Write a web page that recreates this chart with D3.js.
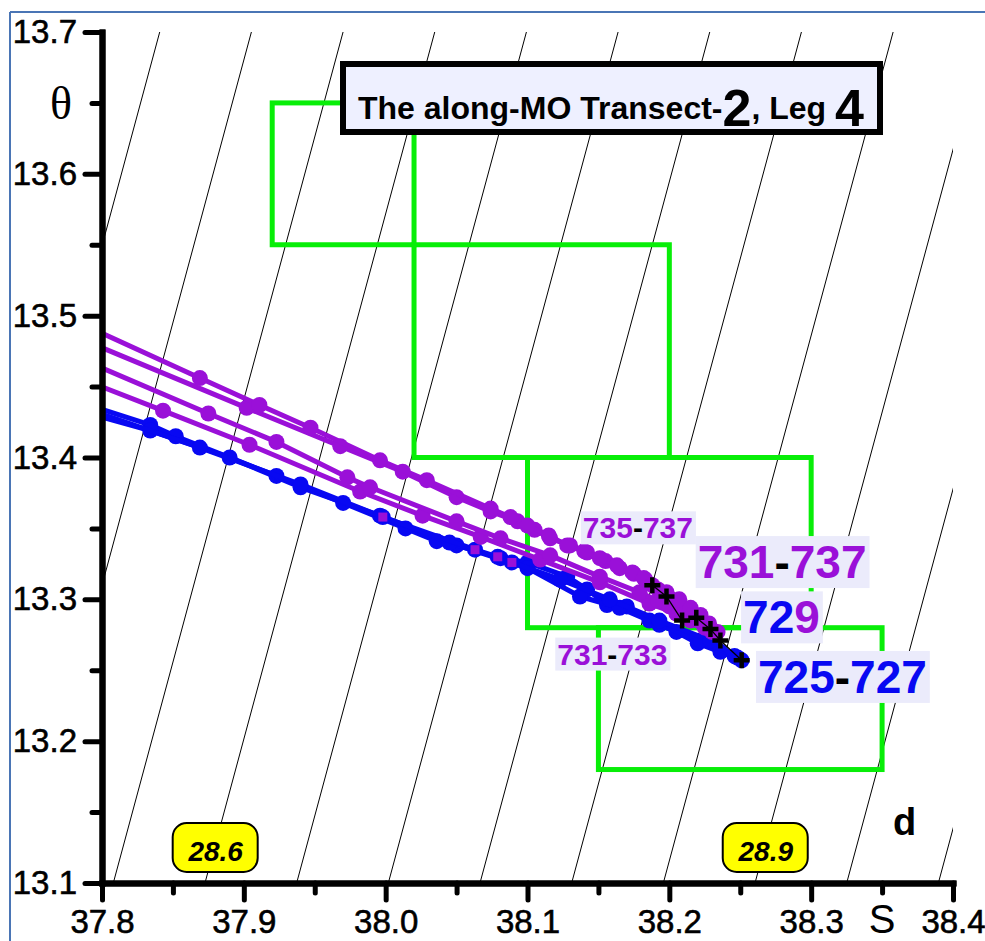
<!DOCTYPE html>
<html><head><meta charset="utf-8">
<script src="https://cdn.jsdelivr.net/npm/d3@7"></script>
<style>body{margin:0;background:#fff}svg{display:block}</style>
</head><body><svg id="c" width="985" height="941"></svg>
<script>
// ---------- data ----------
const xTicks = [37.8, 37.9, 38.0, 38.1, 38.2, 38.3, 38.4];
const xMinor = [37.85, 37.95, 38.05, 38.15, 38.25, 38.35];
const yTicks = [13.1, 13.2, 13.3, 13.4, 13.5, 13.6, 13.7];
const yMinor = [13.15, 13.25, 13.35, 13.45, 13.55, 13.65];
const sigmaLevels = [28.45, 28.5, 28.55, 28.6, 28.65, 28.7, 28.75, 28.8, 28.85, 28.9, 28.95, 29.0];
const sigmaLabels = [28.6, 28.9];
// linear equation of state
const sigmaRef = 28.6, sAtRef = 37.8726, thetaRef = 13.1, dSdSigma = 1.2927, dSdTheta = 0.27;
// green boxes: [Smin, Smax, thetaMin, thetaMax]
const boxes = [[37.92, 38.02, 13.55, 13.65], [38.02, 38.2, 13.4, 13.55], [38.1, 38.3, 13.28, 13.4], [38.15, 38.35, 13.18, 13.28]];
// stations: [S, theta]
const st725 = [[37.784,13.439],[37.834,13.423],[37.852,13.415],[37.923,13.387],[37.970,13.368],[38.014,13.350],[38.036,13.341],[38.050,13.338],[38.081,13.329],[38.100,13.326],[38.128,13.316],[38.142,13.307],[38.156,13.296],[38.170,13.295],[38.186,13.285],[38.205,13.277],[38.220,13.269],[38.236,13.263],[38.251,13.257]];
const st727 = [[37.784,13.433],[37.834,13.419],[37.890,13.400],[37.940,13.379],[37.996,13.359],[38.045,13.340],[38.100,13.322],[38.137,13.302],[38.165,13.294],[38.193,13.282],[38.222,13.271],[38.246,13.260]];
const st729 = [[37.784,13.436],[37.869,13.407],[37.940,13.381],[37.998,13.358],[38.063,13.335],[38.079,13.330],[38.089,13.326],[38.123,13.314],[38.158,13.300],[38.193,13.285],[38.229,13.271],[38.248,13.259]];
const sq729 = [[37.998,13.358],[38.063,13.335],[38.079,13.330],[38.089,13.326]];
const st731 = [[37.784,13.456],[37.843,13.433],[37.904,13.409],[37.982,13.376],[38.026,13.359],[38.067,13.344],[38.109,13.328],[38.151,13.312],[38.186,13.297],[38.205,13.290],[38.215,13.285],[38.225,13.280]];
const st733 = [[37.784,13.470],[37.875,13.431],[37.923,13.411],[37.973,13.386],[37.989,13.379],[38.050,13.355],[38.081,13.343],[38.116,13.331],[38.151,13.316],[38.179,13.305],[38.192,13.299],[38.200,13.295],[38.212,13.289],[38.222,13.284]];
const st735 = [[37.784,13.484],[37.902,13.435],[37.968,13.408],[38.012,13.390],[38.050,13.372],[38.074,13.362],[38.093,13.355],[38.105,13.349],[38.116,13.343],[38.130,13.338],[38.142,13.333],[38.155,13.327],[38.165,13.322],[38.175,13.318],[38.183,13.314],[38.192,13.307],[38.200,13.301],[38.210,13.294],[38.218,13.288],[38.225,13.282],[38.230,13.277]];
const st737 = [[37.784,13.495],[37.869,13.456],[37.911,13.437],[37.947,13.421],[37.996,13.398],[38.029,13.384],[38.074,13.364],[38.088,13.358],[38.100,13.352],[38.115,13.345],[38.128,13.338],[38.140,13.334],[38.151,13.329],[38.163,13.324],[38.174,13.319],[38.182,13.315],[38.188,13.310],[38.198,13.305],[38.207,13.300],[38.215,13.294],[38.222,13.289],[38.228,13.283],[38.234,13.277]];
const crosses = [[38.188,13.310],[38.198,13.302],[38.209,13.285],[38.219,13.287],[38.229,13.279],[38.236,13.271],[38.251,13.257]];

// ---------- drawing ----------
const BLUE = "#0808f2", PURPLE = "#9a10d8", GREEN = "#08ee08";
const FONT = "'Liberation Sans', Arial, sans-serif";
const svg = d3.select("#c");
const x = d3.scaleLinear().domain([37.8, 38.4]).range([102, 953]);
const y = d3.scaleLinear().domain([13.1, 13.7]).range([883, 32]);

// frame
svg.append("line").attr("x1",10).attr("y1",12).attr("x2",985).attr("y2",12).attr("stroke","#4a75b5").attr("stroke-width",2);
svg.append("line").attr("x1",10).attr("y1",12).attr("x2",10).attr("y2",941).attr("stroke","#4a75b5").attr("stroke-width",2);

svg.append("clipPath").attr("id","plot").append("rect")
  .attr("x",x(37.8)).attr("y",y(13.7)).attr("width",x(38.4)-x(37.8)).attr("height",y(13.1)-y(13.7));

const sOf = (sig, th) => sAtRef + (sig - sigmaRef) * dSdSigma + (th - thetaRef) * dSdTheta;

// isopycnals
const iso = svg.append("g").attr("clip-path","url(#plot)");
const isoLine = d3.line().x(d => x(d[0])).y(d => y(d[1]));
sigmaLevels.forEach(sig => {
  iso.append("path").attr("d", isoLine([[sOf(sig,13.1),13.1],[sOf(sig,13.7),13.7]]))
    .attr("stroke","#000").attr("stroke-width",1).attr("fill","none");
});

// green boxes
svg.append("g").selectAll("rect").data(boxes).join("rect")
  .attr("x", d => x(d[0])).attr("y", d => y(d[3]))
  .attr("width", d => x(d[1]) - x(d[0])).attr("height", d => y(d[2]) - y(d[3]))
  .attr("fill","none").attr("stroke",GREEN).attr("stroke-width",5);

// stations
const dataG = svg.append("g").attr("clip-path","url(#plot)");
const stations = [
  {pts: st725, c: BLUE}, {pts: st727, c: BLUE}, {pts: st729, c: BLUE},
  {pts: st731, c: PURPLE}, {pts: st733, c: PURPLE}, {pts: st735, c: PURPLE}, {pts: st737, c: PURPLE}
];
const line = d3.line().x(d => x(d[0])).y(d => y(d[1]));
stations.forEach(st => {
  dataG.append("path").attr("d", line(st.pts)).attr("fill","none")
    .attr("stroke", st.c).attr("stroke-width",5).attr("stroke-linejoin","round");
  dataG.append("g").selectAll("circle").data(st.pts).join("circle")
    .attr("cx", d => x(d[0])).attr("cy", d => y(d[1])).attr("r", 8).attr("fill", st.c);
});
dataG.append("g").selectAll("rect").data(sq729).join("rect")
  .attr("x", d => x(d[0]) - 4.5).attr("y", d => y(d[1]) - 4.5).attr("width",9).attr("height",9)
  .attr("fill", PURPLE);
// crosses and connecting line
dataG.append("path").attr("d", line(crosses)).attr("fill","none").attr("stroke","#000").attr("stroke-width",1.3);
const cg = dataG.append("g");
crosses.forEach(d => {
  const cx = x(d[0]), cy = y(d[1]);
  cg.append("path").attr("d", `M${cx-8},${cy}H${cx+8}M${cx},${cy-8}V${cy+8}`)
    .attr("stroke","#000").attr("stroke-width",4.5);
});

// station labels
function label(parts, s, th, size) {
  const g = svg.append("g");
  const t = g.append("text").attr("x", x(s)).attr("y", y(th))
    .attr("font-family", FONT).attr("font-weight","bold").attr("font-size", size);
  parts.forEach(p => t.append("tspan").text(p[0]).attr("fill", p[1]));
  const b = t.node().getBBox();
  g.insert("rect","text").attr("x", b.x - 2).attr("y", b.y).attr("width", b.width + 5).attr("height", b.height)
    .attr("fill","#ebebfb");
}
label([["735",PURPLE],["-","#000"],["737",PURPLE]], 38.139, 13.343, 30);
label([["731",PURPLE],["-","#000"],["733",PURPLE]], 38.121, 13.254, 30);
label([["731",PURPLE],["-","#000"],["737",PURPLE]], 38.220, 13.315, 46);
label([["72",BLUE],["9",PURPLE]], 38.252, 13.276, 46);
label([["725",BLUE],["-","#000"],["727",BLUE]], 38.2625, 13.234, 46);

// density labels
const thLab = y.invert(847);
sigmaLabels.forEach(sig => {
  const cx = x(sOf(sig, thLab)), cy = y(thLab);
  svg.append("rect").attr("x", cx - 42).attr("y", cy - 24).attr("width", 85).attr("height", 49)
    .attr("rx", 14).attr("fill","#ffff00").attr("stroke","#000").attr("stroke-width",2);
  svg.append("text").attr("x", cx + 1).attr("y", cy + 14).attr("text-anchor","middle")
    .attr("font-family", FONT).attr("font-weight","bold").attr("font-style","italic").attr("font-size",28)
    .text(sig.toFixed(1));
});

// title box
svg.append("rect").attr("x",343).attr("y",64).attr("width",537).attr("height",68)
  .attr("fill","#eef0ff").attr("stroke","#000").attr("stroke-width",6);
const tt = svg.append("text").attr("x",358).attr("y",119).attr("font-family",FONT).attr("font-weight","bold").attr("font-size",32);
tt.append("tspan").text("The along-MO Transect-");
tt.append("tspan").text("2").attr("font-size",52).attr("dy",7);
tt.append("tspan").text(", Leg ").attr("dy",-7);
tt.append("tspan").text("4").attr("font-size",52).attr("dy",7);

// d label
svg.append("text").attr("x",893).attr("y",835).attr("font-family",FONT).attr("font-weight","bold").attr("font-size",38).text("d");

// axes
function styleAxis(g, size) {
  g.attr("font-family", FONT).attr("font-size", size);
  g.select(".domain").attr("stroke","#000").attr("stroke-width",6).attr("stroke-linecap","square");
  g.selectAll(".tick line").attr("stroke","#000").attr("stroke-width",5).attr("stroke-linecap","round");
  g.selectAll(".tick text").attr("fill","#000").attr("stroke","#000").attr("stroke-width",0.6);
}
const gyMin = svg.append("g").attr("transform",`translate(${x(37.8)},0)`)
  .call(d3.axisLeft(y).tickValues(yMinor).tickSize(10).tickSizeOuter(0).tickFormat(""));
styleAxis(gyMin, 33);
const gy = svg.append("g").attr("transform",`translate(${x(37.8)},0)`)
  .call(d3.axisLeft(y).tickValues(yTicks).tickSize(17).tickSizeOuter(0).tickPadding(8).tickFormat(d3.format(".1f")));
styleAxis(gy, 33);
const gxMin = svg.append("g").attr("transform",`translate(0,${y(13.1)})`)
  .call(d3.axisBottom(x).tickValues(xMinor).tickSize(10).tickSizeOuter(0).tickFormat(""));
styleAxis(gxMin, 33);
const gx = svg.append("g").attr("transform",`translate(0,${y(13.1)})`)
  .call(d3.axisBottom(x).tickValues(xTicks).tickSize(17).tickSizeOuter(0).tickPadding(10).tickFormat(d3.format(".1f")));
styleAxis(gx, 33);

// axis titles
svg.append("text").attr("x", 61).attr("y", y(13.65) + 16).attr("text-anchor","middle")
  .attr("font-family","'Liberation Serif', 'Times New Roman', serif").attr("font-size",46).text("θ");
svg.append("text").attr("x", x(38.35)).attr("y", 933).attr("text-anchor","middle")
  .attr("font-family", FONT).attr("font-size",40).text("S");
</script></body></html>
